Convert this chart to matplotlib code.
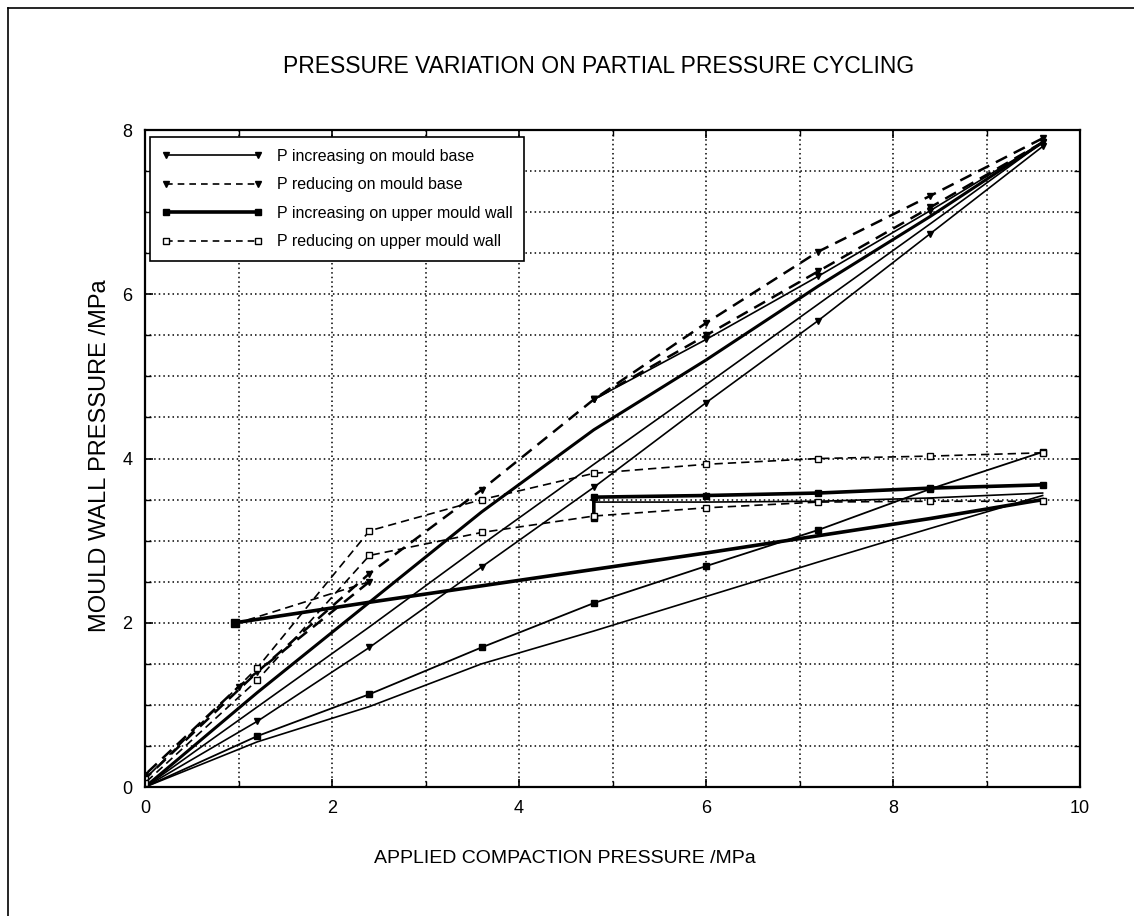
import matplotlib.pyplot as plt
from matplotlib.lines import Line2D
from matplotlib.ticker import MultipleLocator

plt.rcParams['font.family'] = ['Liberation Sans', 'DejaVu Sans']

# ---- data (MPa) ----
# P increasing on mould base (thin solid, down triangles)
bi1_x = [0, 1.2, 2.4, 3.6, 4.8, 6.0, 7.2, 8.4, 9.6]
bi1_y = [0, 0.8, 1.7, 2.68, 3.65, 4.68, 5.68, 6.74, 7.8]
bi2_x = [0, 2.4, 3.6, 4.8, 6.0, 7.2, 8.4, 9.6]
bi2_y = [0, 1.95, 2.95, 3.93, 4.9, 5.88, 6.86, 7.85]
bi3_x = [4.8, 6.0, 7.2, 8.4, 9.6]
bi3_y = [4.72, 5.45, 6.22, 7.02, 7.85]
# heavy line from origin in the base group
bh_x = [0, 1.2, 2.4, 3.6, 4.8, 6.0, 7.2, 8.4, 9.6]
bh_y = [0, 1.15, 2.25, 3.35, 4.35, 5.2, 6.1, 6.95, 7.85]

# P reducing on mould base (dashed, down triangles)
bd1_x = [9.6, 8.4, 7.2, 6.0, 4.8, 3.6, 2.4, 1.2, 0]
bd1_y = [7.9, 7.2, 6.52, 5.65, 4.72, 3.62, 2.6, 1.4, 0.1]
bd2_x = [9.6, 8.4, 7.2, 6.0, 4.8]
bd2_y = [7.85, 7.06, 6.28, 5.5, 4.72]
bd3_x = [2.4, 1.0, 0]
bd3_y = [2.5, 1.22, 0.15]

# P increasing on upper mould wall (heavy solid, filled squares)
wi1_x = [0, 1.2, 2.4, 3.6, 4.8, 6.0, 7.2, 8.4, 9.6]
wi1_y = [0, 0.62, 1.13, 1.7, 2.24, 2.69, 3.13, 3.63, 4.08]
wi2_x = [0.96, 2.4, 3.6, 4.8, 6.0, 7.2, 8.4, 9.6]
wi2_y = [2.0, 2.25, 2.45, 2.65, 2.85, 3.06, 3.27, 3.5]
wi3_x = [4.8, 4.8, 6.0, 7.2, 8.4, 9.6]
wi3_y = [3.28, 3.53, 3.55, 3.58, 3.64, 3.68]
wl1_x = [0, 1.2, 2.4, 3.6, 4.8, 6.0, 7.2, 8.4, 9.6]
wl1_y = [0, 0.55, 0.98, 1.5, 1.9, 2.32, 2.74, 3.15, 3.55]
wl2_x = [4.8, 6.0, 7.2, 8.4, 9.6]
wl2_y = [3.47, 3.47, 3.48, 3.52, 3.58]

# P reducing on upper mould wall (dashed, open squares)
wd1_x = [9.6, 8.4, 7.2, 6.0, 4.8, 3.6, 2.4, 1.2, 0]
wd1_y = [4.07, 4.03, 4.0, 3.93, 3.82, 3.5, 3.12, 1.45, 0.1]
wd2_x = [9.6, 8.4, 7.2, 6.0, 4.8, 3.6, 2.4, 1.2, 0]
wd2_y = [3.48, 3.48, 3.47, 3.4, 3.3, 3.1, 2.82, 1.3, 0.05]
wd3_x = [2.4, 1.0]
wd3_y = [2.5, 2.0]

labels = ['P increasing on mould base', 'P reducing on mould base',
          'P increasing on upper mould wall', 'P reducing on upper mould wall']

fig = plt.figure(figsize=(11.34, 9.16), dpi=100)
ax = fig.add_axes([0.1279, 0.1408, 0.8245, 0.7172])

dash = (0, (5, 3))
ms = 5

# base, increasing
ax.plot(bi1_x, bi1_y, '-', color='k', lw=1.2, marker='v', ms=ms)
ax.plot(bi2_x, bi2_y, '-', color='k', lw=1.2)
ax.plot(bi3_x, bi3_y, '-', color='k', lw=1.2, marker='v', ms=4)
ax.plot(bh_x, bh_y, '-', color='k', lw=2.2)
# base, reducing
ax.plot(bd1_x, bd1_y, color='k', ls=dash, lw=1.8, marker='v', ms=ms)
ax.plot(bd2_x, bd2_y, color='k', ls=dash, lw=1.8, marker='v', ms=ms)
ax.plot(bd3_x, bd3_y, color='k', ls=dash, lw=1.8, marker='v', ms=ms)
# wall, increasing
ax.plot(wi1_x, wi1_y, '-', color='k', lw=1.3, marker='s', ms=ms)
ax.plot(wi2_x, wi2_y, '-', color='k', lw=2.6, marker='s', ms=6, markevery=[0])
ax.plot(wi3_x, wi3_y, '-', color='k', lw=2.6, marker='s', ms=ms)
ax.plot(wl1_x, wl1_y, '-', color='k', lw=1.2)
ax.plot(wl2_x, wl2_y, '-', color='k', lw=1.2)
# wall, reducing
ax.plot(wd1_x, wd1_y, color='k', ls=dash, lw=1.2, marker='s', ms=ms, mfc='white')
ax.plot(wd2_x, wd2_y, color='k', ls=dash, lw=1.2, marker='s', ms=ms, mfc='white')
ax.plot(wd3_x, wd3_y, color='k', ls=dash, lw=1.2)

ax.set_xlim(0, 10)
ax.set_ylim(0, 8)
ax.xaxis.set_major_locator(MultipleLocator(2))
ax.xaxis.set_minor_locator(MultipleLocator(1))
ax.yaxis.set_major_locator(MultipleLocator(2))
ax.yaxis.set_minor_locator(MultipleLocator(0.5))
ax.grid(True, which='both', color='k', ls=(0, (1, 2)), lw=1.1)
ax.tick_params(which='both', direction='in', top=True, right=True, colors='k',
               labelsize=13, pad=9)
ax.tick_params(which='major', length=6, width=1.2)
ax.tick_params(which='minor', length=4, width=1.0)
for s in ax.spines.values():
    s.set_linewidth(1.6)

handles = [
    Line2D([], [], color='k', lw=1.2, marker='v', ms=ms),
    Line2D([], [], color='k', lw=1.2, ls=(0, (4, 3)), marker='v', ms=ms),
    Line2D([], [], color='k', lw=2.6, marker='s', ms=ms),
    Line2D([], [], color='k', lw=1.2, ls=(0, (4, 3)), marker='s', ms=ms, mfc='white'),
]
leg = ax.legend(handles, labels, loc='upper left', bbox_to_anchor=(0.005, 0.99),
                borderaxespad=0, fontsize=11.5, numpoints=2, handlelength=6.3,
                fancybox=False, framealpha=1, edgecolor='k', borderpad=0.75,
                labelspacing=0.85, handletextpad=0.9)
leg.get_frame().set_linewidth(1.2)

fig.text(0.528, 0.927, 'PRESSURE VARIATION ON PARTIAL PRESSURE CYCLING',
         ha='center', va='center', fontsize=16.5)
fig.text(0.498, 0.063, 'APPLIED COMPACTION PRESSURE /MPa',
         ha='center', va='center', fontsize=14)
fig.text(0.088, 0.503, 'MOULD WALL PRESSURE /MPa', rotation=90,
         ha='center', va='center', fontsize=17)

# partial outer frame of the scanned page
fig.add_artist(Line2D([0.007, 0.007], [0.0, 0.991], color='k', lw=1.2))
fig.add_artist(Line2D([0.007, 1.0], [0.991, 0.991], color='k', lw=1.2))

fig.savefig('out.png', dpi=100)
